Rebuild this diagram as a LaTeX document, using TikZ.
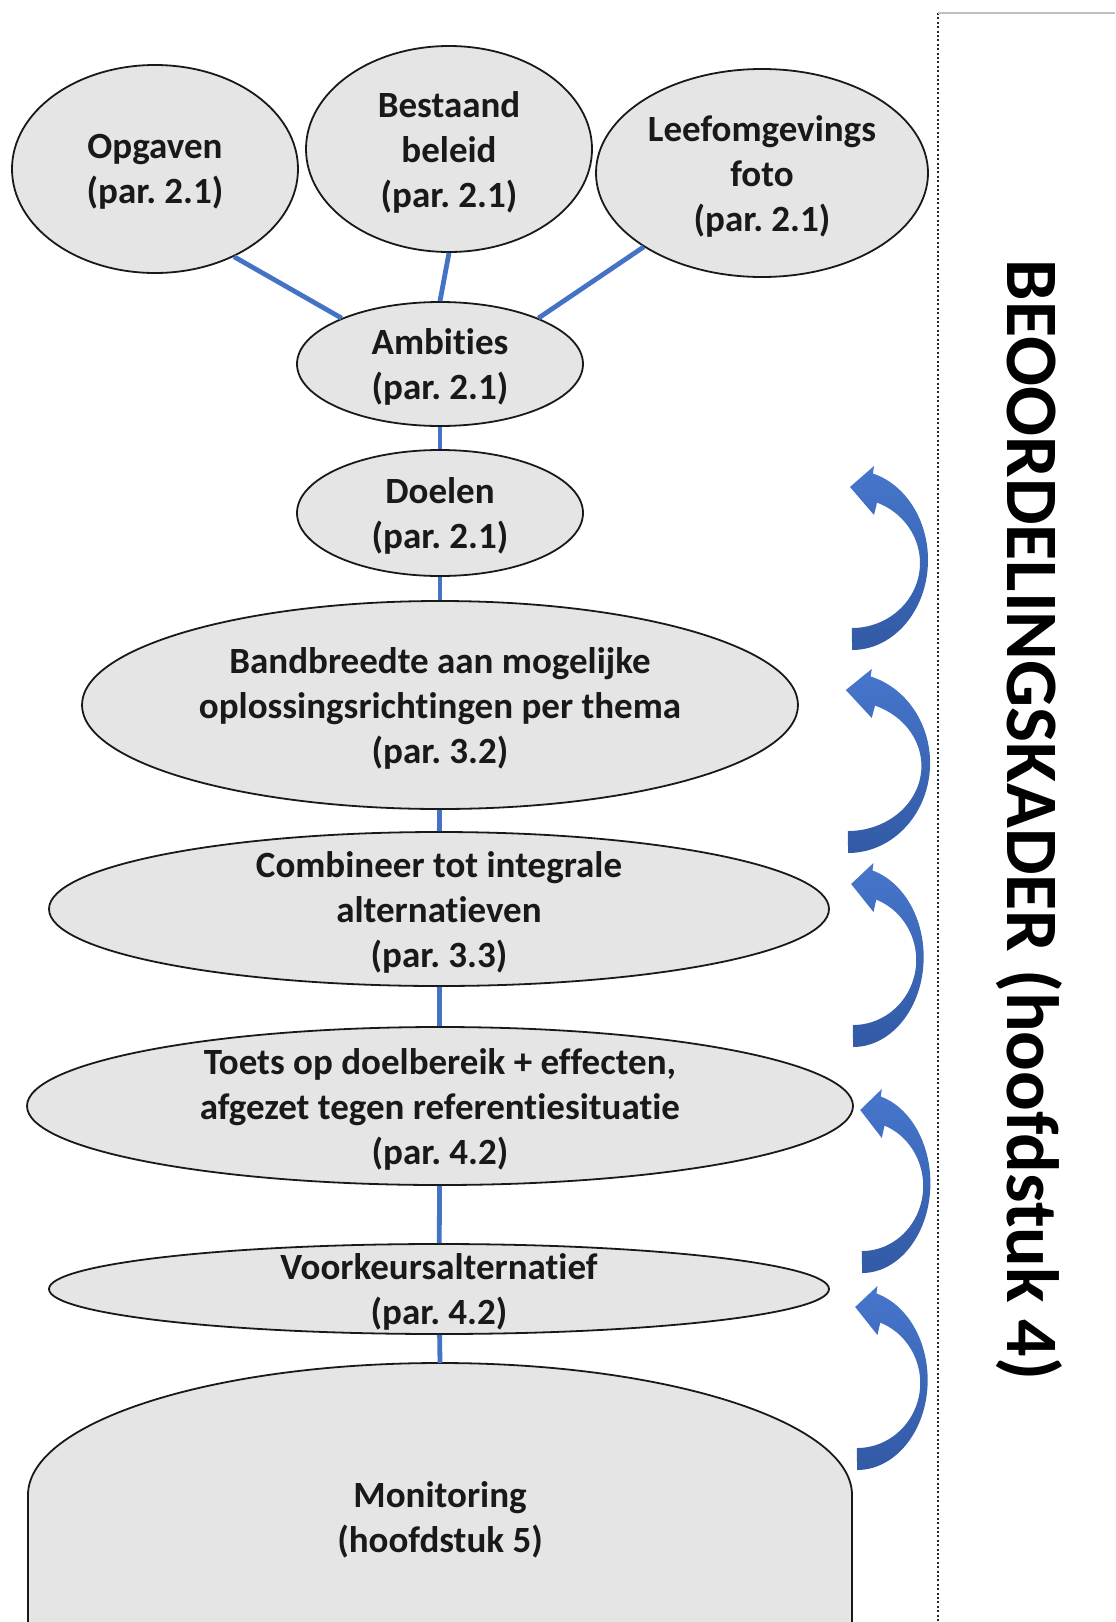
\documentclass[tikz,border=0pt]{standalone}
\usepackage{fontspec}
\setmainfont{Carlito}[Ligatures=NoCommon]
\usetikzlibrary{shapes.geometric}
\definecolor{linkblue}{RGB}{68,114,196}
\definecolor{arrowtop}{RGB}{70,118,204}
\definecolor{arrowbot}{RGB}{50,90,165}
\frenchspacing

\begin{document}
\begin{tikzpicture}[x=0.5pt,y=-0.5pt]
  \tikzset{bubble/.style = {shape=ellipse,draw=black!90,fill=gray!20,line width=0.9pt,inner sep=0pt}}
  \tikzset{txt/.style = {align=center,font=\bfseries\fontsize{18.5}{22.5}\selectfont,text=black!90,yshift=-1.5pt}}
  \tikzset{link/.style = {draw=linkblue,line width=2.4pt}}
  \tikzset{backarrow/.style = {top color=arrowtop,bottom color=arrowbot}}

  \useasboundingbox (0,0) rectangle (1115,1622);

	\node[bubble,minimum width=143pt,minimum height=104pt] (opgaven) at (155,169) {};
	\node[bubble,minimum width=143pt,minimum height=103pt] (bestaand) at (449,149) {};
	\node[bubble,minimum width=166pt,minimum height=104pt] (leefomgeving) at (762,173) {};
	\node[bubble,minimum width=143pt,minimum height=62pt] (ambities) at (440,364) {};
	\node[bubble,minimum width=143pt,minimum height=63pt] (doelen) at (440,513) {};
	\node[bubble,minimum width=358pt,minimum height=104pt] (bandbreedte) at (440,705) {};
	\node[bubble,minimum width=390pt,minimum height=77pt] (combineer) at (439,909) {};
	\node[bubble,minimum width=413pt,minimum height=79pt] (toets) at (440,1106) {};
	\node[bubble,minimum width=390pt,minimum height=45pt] (voorkeur) at (439,1289) {};

	% monitoring, cut off at the bottom
	\draw[draw=black!90,fill=gray!20,line width=0.9pt] (28,1640) -- (28,1495)
	  arc[start angle=180,end angle=360,x radius=412,y radius=132] -- (852,1640);
	\coordinate (monitoring) at (440,1363);

	\node[txt] (opgaven-t) at (opgaven) {Opgaven\\(par. 2.1)};
	\node[txt] (bestaand-t) at (bestaand) {Bestaand\\beleid\\(par. 2.1)};
	\node[txt] (leefomgeving-t) at (leefomgeving) {Leefomgevings\\foto\\(par. 2.1)};
	\node[txt] (ambities-t) at (ambities) {Ambities\\(par. 2.1)};
	\node[txt] (doelen-t) at (doelen) {Doelen\\(par. 2.1)};
	\node[txt] (bandbreedte-t) at (bandbreedte) {Bandbreedte aan mogelijke\\oplossingsrichtingen per thema\\(par. 3.2)};
	\node[txt] (combineer-t) at (combineer) {Combineer tot integrale\\alternatieven\\(par. 3.3)};
	\node[txt] (toets-t) at (toets) {Toets op doelbereik + effecten,\\afgezet tegen referentiesituatie\\(par. 4.2)};
	\node[txt] (voorkeur-t) at (voorkeur) {Voorkeursalternatief\\(par. 4.2)};
	\node[txt] (monitoring-t) at (440,1517) {Monitoring\\(hoofdstuk 5)};

	\draw[link] (opgaven.-48) -- (ambities.155);
	\draw[link] (bestaand.south) -- (ambities.north);
	\draw[link] (leefomgeving.212) -- (ambities.25);
    \foreach \from/\to in {ambities/doelen,doelen/bandbreedte,bandbreedte/combineer,combineer/toets,toets/voorkeur,voorkeur/monitoring}
    \draw[link] (\from) -- (\to);

	% terugkoppel-pijlen
    \foreach \cx/\cy/\s in {852/560/1,848/763/1.08,853/957/0.93,862/1183/0.9,857/1380/0.93}
    \shade[backarrow,shift={(\cx,\cy)},xscale=\s] (0,90)
      arc[start angle=90,end angle=-74,x radius=76,y radius=90]
      -- (22,-94) -- (-2,-73) -- (22,-45) -- (25,-57.4)
      arc[start angle=-68.4,end angle=90,x radius=68,y radius=65] -- cycle;

	\draw[black!85,line width=1pt,dash pattern=on 1pt off 1.2pt] (938,13) -- (938,1622);
	\draw[gray!50,line width=1pt] (938,13) -- (1115,13);
	\node[rotate=-90,font=\bfseries\fontsize{37}{44}\selectfont] (kader) at (1029,820) {BEOORDELINGSKADER (hoofdstuk 4)};
\end{tikzpicture}
\end{document}
